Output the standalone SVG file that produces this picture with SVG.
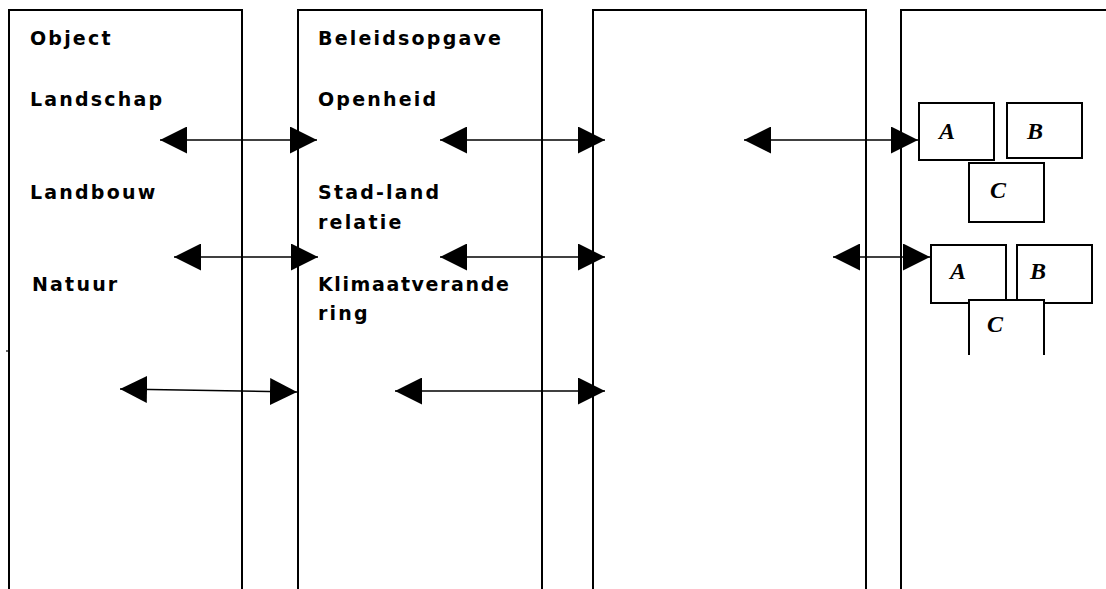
<svg xmlns="http://www.w3.org/2000/svg" width="1106" height="589" viewBox="0 0 1106 589">
<style>
.col{fill:none;stroke:#000;stroke-width:2}
.box{fill:#fff;stroke:#000;stroke-width:2}
.lbl{font-family:"DejaVu Sans","Noto Sans",sans-serif;font-weight:bold;font-size:19px;letter-spacing:2.2px;fill:#000}
.let{font-family:"Liberation Serif","DejaVu Serif",serif;font-style:italic;font-weight:bold;font-size:24px;fill:#000;text-anchor:middle}
.arr{stroke:#000;stroke-width:1.6;fill:none;marker-start:url(#ah);marker-end:url(#ah)}
</style>
<defs>
<marker id="ah" viewBox="0 0 27 27" markerWidth="27" markerHeight="27" refX="27" refY="13.5" markerUnits="userSpaceOnUse" orient="auto-start-reverse">
<path d="M0,0 L27,13.5 L0,27 Z" fill="#000"/>
</marker>
</defs>
<rect width="1106" height="589" fill="#fff"/>
<g id="col-object">
<path class="col" d="M9,589 V10 H242 V589"/>
<text class="lbl" x="30" y="45">Object</text>
<text class="lbl" x="30" y="106">Landschap</text>
<text class="lbl" x="30" y="199">Landbouw</text>
<text class="lbl" x="32" y="291">Natuur</text>
<line x1="6" y1="351" x2="9" y2="351" stroke="#000" stroke-width="1.2"/>
</g>
<g id="col-beleidsopgave">
<path class="col" d="M298,589 V10 H542 V589"/>
<text class="lbl" x="318" y="45">Beleidsopgave</text>
<text class="lbl" x="318" y="106">Openheid</text>
<text class="lbl" x="318" y="199">Stad-land</text>
<text class="lbl" x="318" y="229">relatie</text>
<text class="lbl" x="318" y="291" textLength="193" lengthAdjust="spacing">Klimaatverande</text>
<text class="lbl" x="318" y="320">ring</text>
</g>
<g id="col-3">
<path class="col" d="M593,589 V10 H866 V589"/>
</g>
<g id="col-4">
<path class="col" d="M901,589 V10 H1108"/>
</g>
<g id="box-a1"><rect class="box" x="919" y="103" width="75" height="57"/><text class="let" x="947" y="139">A</text></g>
<g id="box-b1"><rect class="box" x="1007" y="103" width="75" height="55"/><text class="let" x="1035" y="139">B</text></g>
<g id="box-c1"><rect class="box" x="969" y="163" width="75" height="59"/><text class="let" x="998" y="198">C</text></g>
<g id="box-a2"><rect class="box" x="931" y="245" width="75" height="58"/><text class="let" x="958" y="279">A</text></g>
<g id="box-b2"><rect class="box" x="1017" y="245" width="75" height="58"/><text class="let" x="1038" y="279">B</text></g>
<g id="box-c2"><rect x="969" y="300" width="75" height="55" fill="#fff"/><path class="box" d="M969,355 V300 H1044 V355"/><text class="let" x="995" y="332">C</text></g>
<g id="connectors">
<line class="arr" x1="160" y1="140" x2="317" y2="140"/>
<line class="arr" x1="440" y1="140" x2="605" y2="140"/>
<line class="arr" x1="744" y1="140" x2="918" y2="140"/>
<line class="arr" x1="174" y1="257" x2="318" y2="257"/>
<line class="arr" x1="440" y1="257" x2="605" y2="257"/>
<line class="arr" x1="833" y1="257" x2="930" y2="257"/>
<line class="arr" x1="120" y1="389" x2="297" y2="392"/>
<line class="arr" x1="395" y1="391" x2="605" y2="391"/>
</g>
</svg>
